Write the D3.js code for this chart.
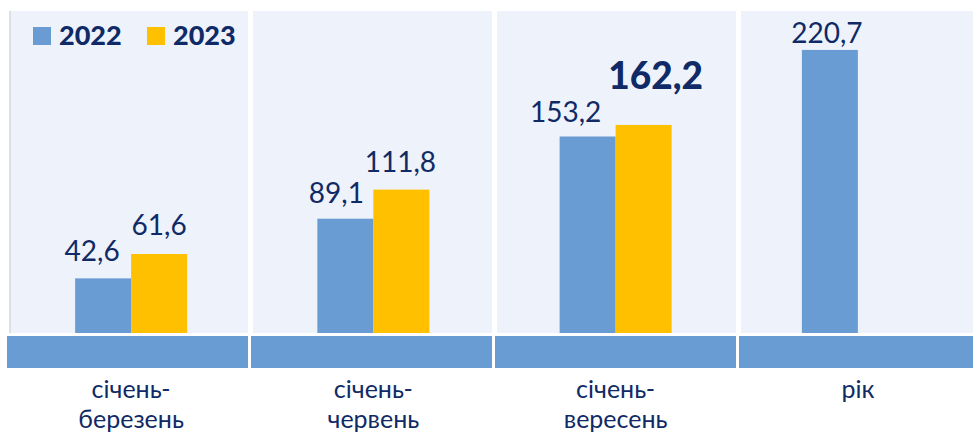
<!DOCTYPE html>
<html><head><meta charset="utf-8">
<script src="https://cdn.jsdelivr.net/npm/d3@7"></script>
<style>
html,body{margin:0;padding:0;background:#fff;}
svg{display:block;font-family:Lato,"Open Sans",sans-serif;}
</style></head>
<body>
<svg id="chart" width="973" height="435"></svg>
<script>
// ---- data ----
const categories = ["січень-березень", "січень-червень", "січень-вересень", "рік"];
const categoryLines = [["січень-", "березень"], ["січень-", "червень"], ["січень-", "вересень"], ["рік"]];
const seriesNames = ["2022", "2023"];
const values2022 = [42.6, 89.1, 153.2, 220.7];
const values2023 = [61.6, 111.8, 162.2, null];
const labels2022 = ["42,6", "89,1", "153,2", "220,7"];
const labels2023 = ["61,6", "111,8", "162,2", ""];
// label placement tweaks (px)
const gap2022 = [17, 16, 15, 7];
const gap2023 = [19, 18, 36, 0];
const dx2022 = [-11, -9, -22, -3];
const dx2023 = [0, -1, 12, 0];

const colors = {"2022": "#689CD3", "2023": "#FFC000"};
const navy = "#0F2A66";

const svg = d3.select("#chart");

const panelX = d3.scaleBand().domain(categories).range([7, 983]).padding(0);
const x = d3.scaleBand().domain(categories).range([10, 979]).padding(0);
const y = d3.scaleLinear().domain([0, 230]).range([333, 38]);
const barW = 56;

// panels
svg.selectAll("rect.panel").data(categories).join("rect")
  .attr("class", "panel")
  .attr("x", d => panelX(d) + 2)
  .attr("y", 11)
  .attr("width", panelX.bandwidth() - 5)
  .attr("height", 322)
  .attr("fill", "#EEF2FA");
// left border of first panel
svg.append("rect").attr("x", 9).attr("y", 11).attr("width", 2).attr("height", 322).attr("fill", "#DCDFE5");

// bottom band
svg.selectAll("rect.band").data(categories).join("rect")
  .attr("class", "band")
  .attr("x", d => panelX(d))
  .attr("y", 336)
  .attr("width", panelX.bandwidth() - 3)
  .attr("height", 32)
  .attr("fill", colors["2022"]);

// bars 2022
const cx = d => x(d) + x.bandwidth() / 2;
svg.selectAll("rect.b22").data(categories).join("rect")
  .attr("class", "b22")
  .attr("x", d => cx(d) - barW)
  .attr("y", (d, i) => y(values2022[i]))
  .attr("width", barW)
  .attr("height", (d, i) => y(0) - y(values2022[i]))
  .attr("fill", colors["2022"]);

// bars 2023
const cats23 = categories.filter((d, i) => values2023[i] != null);
svg.selectAll("rect.b23").data(cats23).join("rect")
  .attr("class", "b23")
  .attr("x", d => cx(d))
  .attr("y", d => y(values2023[categories.indexOf(d)]))
  .attr("width", barW)
  .attr("height", d => y(0) - y(values2023[categories.indexOf(d)]))
  .attr("fill", colors["2023"]);

// value labels 2022
svg.selectAll("text.v22").data(categories).join("text")
  .attr("class", "v22")
  .attr("x", (d, i) => cx(d) - barW / 2 + dx2022[i])
  .attr("y", (d, i) => y(values2022[i]) - gap2022[i])
  .attr("text-anchor", "middle")
  .attr("font-size", 28)
  .attr("fill", navy)
  .text((d, i) => labels2022[i]);

// value labels 2023
svg.selectAll("text.v23").data(cats23).join("text")
  .attr("class", "v23")
  .attr("x", d => cx(d) + barW / 2 + dx2023[categories.indexOf(d)])
  .attr("y", d => { const i = categories.indexOf(d); return y(values2023[i]) - gap2023[i]; })
  .attr("text-anchor", "middle")
  .attr("font-size", d => categories.indexOf(d) === 2 ? 37 : 28)
  .attr("font-weight", d => categories.indexOf(d) === 2 ? 900 : 400)
  .attr("fill", navy)
  .text(d => labels2023[categories.indexOf(d)]);

// category labels
const cl = svg.selectAll("text.cat").data(categories).join("text")
  .attr("class", "cat")
  .attr("text-anchor", "middle")
  .attr("font-size", 25)
  .attr("fill", navy);
cl.each(function(d, i) {
  const t = d3.select(this);
  categoryLines[i].forEach((line, j) => {
    t.append("tspan").attr("x", cx(d)).attr("y", 398 + j * 30).text(line);
  });
});

// legend
const legendX = [33, 147];
seriesNames.forEach((s, i) => {
  svg.append("rect").attr("x", legendX[i]).attr("y", 27).attr("width", 18).attr("height", 18).attr("fill", colors[s]);
  svg.append("text").attr("x", legendX[i] + 26).attr("y", 45)
    .attr("font-size", 27).attr("font-weight", 900).attr("fill", navy).text(s);
});
</script>
</body></html>
